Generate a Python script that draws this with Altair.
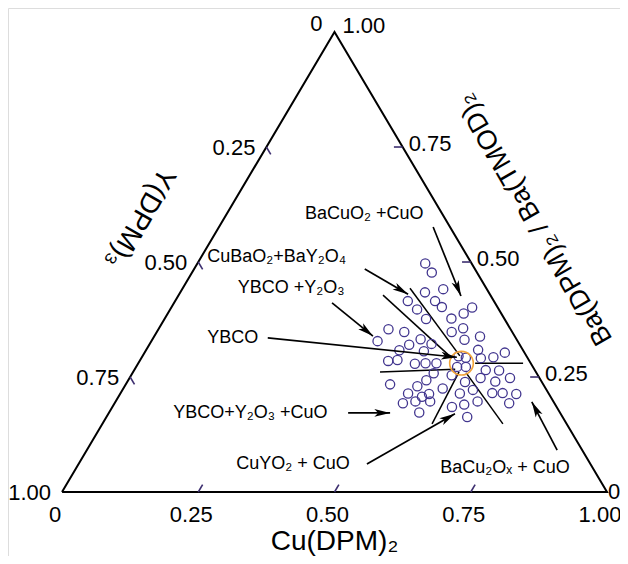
import math
import altair as alt
import pandas as pd

# ---------------- chart values (mole fractions, Cu and Ba; Y = 1 - Cu - Ba) ----------------
cu_frac = [0.418, 0.440, 0.479, 0.449, 0.427, 0.477, 0.453, 0.496, 0.552, 0.543,
           0.480, 0.526, 0.558, 0.422, 0.454, 0.541, 0.598, 0.415, 0.492, 0.573,
           0.477, 0.517, 0.465, 0.511, 0.609, 0.661, 0.645, 0.623, 0.456, 0.472,
           0.508, 0.527, 0.547, 0.580, 0.595, 0.605, 0.589, 0.645, 0.670, 0.553,
           0.588, 0.644, 0.675, 0.698, 0.485, 0.537, 0.547, 0.586, 0.620, 0.643,
           0.528, 0.557, 0.567, 0.623, 0.664, 0.682, 0.701, 0.727, 0.724, 0.529,
           0.550, 0.577, 0.623, 0.643, 0.569, 0.662]
ba_frac = [0.497, 0.477, 0.441, 0.434, 0.415, 0.415, 0.397, 0.402, 0.401, 0.388,
           0.376, 0.377, 0.356, 0.354, 0.348, 0.348, 0.338, 0.328, 0.332, 0.331,
           0.320, 0.322, 0.308, 0.306, 0.309, 0.303, 0.293, 0.291, 0.285, 0.287,
           0.279, 0.280, 0.280, 0.295, 0.292, 0.272, 0.272, 0.265, 0.264, 0.258,
           0.254, 0.248, 0.240, 0.248, 0.234, 0.230, 0.243, 0.225, 0.239, 0.222,
           0.214, 0.207, 0.213, 0.214, 0.197, 0.215, 0.215, 0.213, 0.193, 0.193,
           0.197, 0.197, 0.185, 0.190, 0.173, 0.163]

ybco_cu = [0.593]
ybco_ba = [0.280]

edge_values = [0.0, 0.25, 0.50, 0.75, 1.0]
edge_labels = ["0", "0.25", "0.50", "0.75", "1.00"]
tick_values = [0.25, 0.50, 0.75]

# tie lines (start / end compositions)
tie_cu1 = [0.417, 0.375, 0.618, 0.453, 0.598, 0.612]
tie_ba1 = [0.443, 0.428, 0.280, 0.261, 0.261, 0.259]
tie_cu2 = [0.582, 0.570, 0.706, 0.588, 0.605, 0.735]
tie_ba2 = [0.296, 0.291, 0.280, 0.267, 0.148, 0.148]

# phase-field annotations
phase_labels = ["BaCuO₂ +CuO", "CuBaO₂+BaY₂O₄", "YBCO +Y₂O₃", "YBCO",
                "YBCO+Y₂O₃ +CuO", "CuYO₂ + CuO", "BaCu₂Oₓ + CuO"]
label_cu = [0.144, 0.011, 0.101, 0.099, 0.118, 0.289, 0.668]
label_ba = [0.604, 0.511, 0.443, 0.335, 0.172, 0.061, 0.052]
arrow_tail_cu = [0.393, 0.313, 0.290, 0.210, 0.439, 0.529, 0.863]
arrow_tail_ba = [0.576, 0.485, 0.411, 0.335, 0.172, 0.061, 0.091]
arrow_head_cu = [0.519, 0.420, 0.401, 0.578, 0.516, 0.636, 0.764]
arrow_head_ba = [0.426, 0.430, 0.339, 0.293, 0.172, 0.170, 0.196]

axis_titles = ["Cu(DPM)₂", "Y(DPM)₃", "Ba(DPM)₂ / Ba(TMOD)₂"]
title_cu = [0.5, -0.155, 0.571]
title_ba = [0.0, 0.596, 0.592]

# ---------------- layout / scales ----------------
W, H = 612, 548
X0 = -0.0991
Y1 = 1.0522
X1 = X0 + W / 545.0
Y0 = Y1 - H / 460.0
KX = W / (X1 - X0)
KY = H / (Y1 - Y0)
FONT = "Liberation Sans"
TICK_LEN = 0.016

XS = alt.Scale(domain=[X0, X1], nice=False, zero=False)
YS = alt.Scale(domain=[Y0, Y1], nice=False, zero=False)


def pos(chart, two=False):
    c = chart.transform_calculate(px="datum.Cu + datum.Ba / 2", py="datum.Ba")
    enc = dict(x=alt.X("px:Q", scale=XS, axis=None), y=alt.Y("py:Q", scale=YS, axis=None))
    if two:
        c = c.transform_calculate(px2="datum.Cu2 + datum.Ba2 / 2", py2="datum.Ba2")
        enc.update(x2=alt.X2("px2:Q"), y2=alt.Y2("py2:Q"))
    return c, enc


def layer(df, mark_fn, two=False, **extra):
    base = alt.Chart(df)
    base, enc = pos(base, two)
    enc.update(extra)
    return mark_fn(base).encode(**enc)


# triangle frame (vertices: Y corner, Cu corner, Ba corner)
tri = pd.DataFrame({"Cu": [0, 1, 0, 0], "Ba": [0, 0, 1, 0], "o": [0, 1, 2, 3]})
frame = layer(tri, lambda c: c.mark_line(color="black", strokeWidth=2, strokeJoin="miter"),
              order=alt.Order("o:Q"))

# ticks
tk = []
for v in tick_values:
    tk.append({"Cu": v, "Ba": 0.0, "Cu2": v, "Ba2": TICK_LEN})               # Cu axis
    tk.append({"Cu": 0.0, "Ba": 1 - v, "Cu2": TICK_LEN, "Ba2": 1 - v - TICK_LEN})  # Y axis
    tk.append({"Cu": 1 - v, "Ba": v, "Cu2": 1 - v - TICK_LEN, "Ba2": v})     # Ba axis
ticks = layer(pd.DataFrame(tk), lambda c: c.mark_rule(color="#3d2f70", strokeWidth=1.6), two=True)

# tick labels
bottom_df = pd.DataFrame({"Cu": edge_values, "Ba": [0.0] * 5, "t": edge_labels})
left_df = pd.DataFrame({"Cu": [0.0] * 4, "Ba": [1 - v for v in edge_values[1:]], "t": edge_labels[1:]})
apex_left_df = pd.DataFrame({"Cu": [0.0], "Ba": [1.0], "t": [edge_labels[0]]})
right_df = pd.DataFrame({"Cu": [1 - v for v in edge_values[1:4]], "Ba": edge_values[1:4], "t": edge_labels[1:4]})
corner_right_df = pd.DataFrame({"Cu": [1.0], "Ba": [0.0], "t": [edge_labels[0]]})
apex_right_df = pd.DataFrame({"Cu": [0.0], "Ba": [1.0], "t": [edge_labels[4]]})


def tlab(df, align, dx, dy):
    return layer(df, lambda c: c.mark_text(font=FONT, fontSize=22, align=align, baseline="middle",
                                           dx=dx, dy=dy, color="black"), text="t:N")


lab_b = tlab(bottom_df, "center", -7, 23)
lab_l = tlab(left_df, "right", -11, 1)
lab_al = tlab(apex_left_df, "right", -12, -8)
lab_r = tlab(right_df, "left", 6, -3)
lab_cr = tlab(corner_right_df, "left", 1, 0)
lab_ar = tlab(apex_right_df, "left", 8, -6)

# tie lines
ties_df = pd.DataFrame({"Cu": tie_cu1, "Ba": tie_ba1, "Cu2": tie_cu2, "Ba2": tie_ba2})
ties = layer(ties_df, lambda c: c.mark_rule(color="black", strokeWidth=1.5), two=True)

# data points
pts = layer(pd.DataFrame({"Cu": cu_frac, "Ba": ba_frac}),
            lambda c: c.mark_point(shape="circle", filled=False, size=85, color="#42368f",
                                   strokeWidth=1.3, opacity=1))
ybco = layer(pd.DataFrame({"Cu": ybco_cu, "Ba": ybco_ba}),
             lambda c: c.mark_point(shape="circle", filled=False, size=560, color="#f2a43a",
                                    strokeWidth=1.6, opacity=1))

# arrows
arr = pd.DataFrame({"Cu": arrow_tail_cu, "Ba": arrow_tail_ba,
                    "Cu2": arrow_head_cu, "Ba2": arrow_head_ba})
shafts = layer(arr, lambda c: c.mark_rule(color="black", strokeWidth=1.7), two=True)

angles = []
for tc, tb, hc, hb in zip(arrow_tail_cu, arrow_tail_ba, arrow_head_cu, arrow_head_ba):
    dx = ((hc + hb / 2) - (tc + tb / 2)) * KX
    dy = -(hb - tb) * KY
    angles.append((math.degrees(math.atan2(dx, -dy)) + 360) % 360)
heads_df = pd.DataFrame({"Cu": arrow_head_cu, "Ba": arrow_head_ba, "ang": angles})
ARROW = "M0,0L0.45,1.85L0,1.4L-0.45,1.85Z"
heads = layer(heads_df, lambda c: c.mark_point(shape=ARROW, filled=True, size=290, color="black",
                                               opacity=1, strokeWidth=0),
              angle=alt.Angle("ang:Q", scale=None))

# phase labels
ann = layer(pd.DataFrame({"Cu": label_cu, "Ba": label_ba, "t": phase_labels}),
            lambda c: c.mark_text(font=FONT, fontSize=18, align="left", baseline="middle", color="black"),
            text="t:N")

# axis titles
t_cu = layer(pd.DataFrame({"Cu": title_cu[:1], "Ba": title_ba[:1], "t": axis_titles[:1]}),
             lambda c: c.mark_text(font=FONT, fontSize=28, align="center", baseline="middle",
                                   dy=50, color="black"), text="t:N")
t_y = layer(pd.DataFrame({"Cu": title_cu[1:2], "Ba": title_ba[1:2], "t": axis_titles[1:2]}),
            lambda c: c.mark_text(font=FONT, fontSize=28, align="center", baseline="middle",
                                  angle=120, color="black"), text="t:N")
t_ba = layer(pd.DataFrame({"Cu": title_cu[2:], "Ba": title_ba[2:], "t": axis_titles[2:]}),
             lambda c: c.mark_text(font=FONT, fontSize=27, align="center", baseline="middle",
                                   angle=240, color="black"), text="t:N")

chart = alt.layer(
    frame, ticks, ties, pts, ybco, shafts, heads,
    lab_b, lab_l, lab_al, lab_r, lab_cr, lab_ar, ann, t_cu, t_y, t_ba
).properties(
    width=W, height=H, autosize=alt.AutoSizeParams(type="none"), padding=0
).configure_view(stroke=None).configure(background="white")

chart.save("out.html", embed_options={"renderer": "svg", "actions": False})
